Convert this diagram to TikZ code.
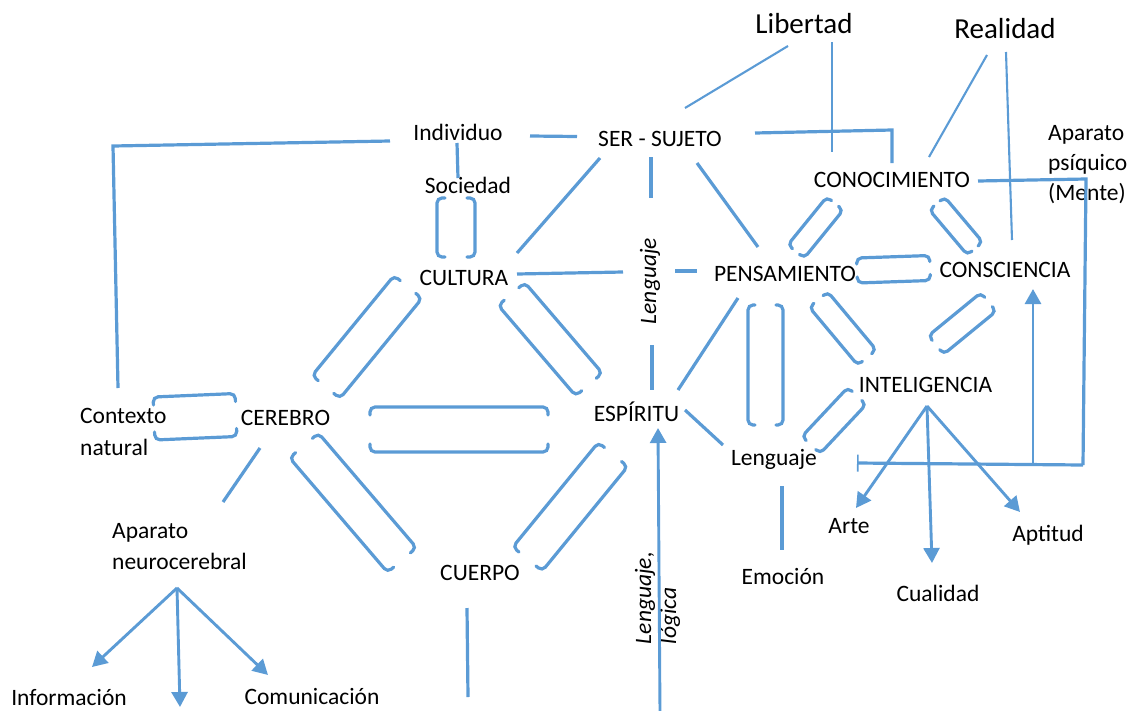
\documentclass[tikz,border=0pt]{standalone}
\usepackage{fontspec}
\setmainfont{Carlito}
\usetikzlibrary{calc,arrows.meta}
\definecolor{wblue}{HTML}{5B9BD5}

% Double bracket between two points: #1,#2 ends of the mid line,
% #3 half gap, #4 hook length
\newcommand\dbr[4]{%
  \pgfmathsetmacro\tipd{#3-#4}%
  \draw[bkt] ($(#1)!\tipd pt!90:(#2)$) -- ($(#1)!#3pt!90:(#2)$)
    -- ($(#2)!#3pt!-90:(#1)$) -- ($(#2)!\tipd pt!-90:(#1)$);
  \draw[bkt] ($(#1)!\tipd pt!-90:(#2)$) -- ($(#1)!#3pt!-90:(#2)$)
    -- ($(#2)!#3pt!90:(#1)$) -- ($(#2)!\tipd pt!90:(#1)$);
}

\begin{document}
\begin{tikzpicture}[x=1pt,y=-1pt,
  lbl/.style={font=\fontsize{23.5}{31}\selectfont, inner sep=0pt, anchor=base},
  big/.style={font=\fontsize{29}{34}\selectfont, inner sep=0pt, anchor=base},
  multi/.style={font=\fontsize{23.5}{31}\selectfont, inner sep=0pt, align=left, anchor=base west},
  rot/.style={font=\fontsize{23.5}{25}\selectfont\itshape, inner sep=0pt, rotate=90},
  ln/.style={wblue, line width=3.2pt},
  thin/.style={wblue, line width=2.1pt},
  bkt/.style={wblue, line width=3.2pt, rounded corners=5pt, line cap=round},
  arr/.style={wblue, line width=2.9pt, -{Triangle[length=15pt,width=16pt]}},
]
\useasboundingbox (0,0) rectangle (1133,710);

% concepts (multi-line nodes are placed by the baseline of their last line)
\node[big] (lib) at (804,33) {Libertad};
\node[big] (real) at (1005,38) {Realidad};
\node[lbl] (ind) at (458,140) {Individuo};
\node[lbl] (ser) at (660,146) {SER - SUJETO};
\node[multi, font=\fontsize{23.5}{30}\selectfont] (apsi) at (1048,200) {Aparato\\psíquico\\(Mente)};
\node[lbl] (soc) at (468,193) {Sociedad};
\node[lbl] (con) at (892,187) {CONOCIMIENTO};
\node[lbl] (cul) at (464,285) {CULTURA};
\node[lbl] (pen) at (785,281) {PENSAMIENTO};
\node[lbl] (cons) at (1005,277) {CONSCIENCIA};
\node[rot] (lenr) at (650,281) {Lenguaje};
\node[lbl] (int) at (925.5,392) {INTELIGENCIA};
\node[multi, font=\fontsize{23.5}{32}\selectfont] (ctx) at (80,455) {Contexto\\natural};
\node[lbl] (cer) at (285.5,425) {CEREBRO};
\node[lbl] (esp) at (636.5,421.5) {ESPÍRITU};
\node[lbl] (len) at (774,465) {Lenguaje};
\node[multi] (neu) at (112,569) {Aparato\\neurocerebral};
\node[lbl] (cue) at (480,580) {CUERPO};
\node[lbl] (arte) at (849,533) {Arte};
\node[lbl] (emo) at (783,584) {Emoción};
\node[lbl] (cua) at (938,601) {Cualidad};
\node[lbl] (apt) at (1048,541) {Aptitud};
\node[lbl] (inf) at (69,705) {Información};
\node[lbl] (com) at (312,704) {Comunicación};
\node[rot, align=left] (ll) at (657.5,598) {Lenguaje,\\lógica};

% plain links
\draw[ln] (390,141) -- (113,146) -- (118,388);
\draw[ln] (530,136) -- (577,136.5);
\draw[ln] (457,143) -- (458,178);
\draw[ln] (600,158) -- (517,253);
\draw[ln] (651,157) -- (651,198);
\draw[ln] (652,345) -- (652,390);
\draw[ln] (697,163) -- (758,247);
\draw[ln] (755,133) -- (892,130) -- (892,163);
\draw[thin] (788,46) -- (685,108);
\draw[thin] (832,42) -- (832,152);
\draw[thin] (987,55) -- (929,157);
\draw[thin] (1006,52) -- (1012,240);
\draw[ln] (978,181) -- (1086,179) -- (1083,465);
\draw[ln, {Bar[width=17pt,line width=1.6pt]}-] (857,463) -- (1083,465);
\draw[arr] (1033,464) -- (1033,289);
\draw[ln] (517,274) -- (623,272);
\draw[ln] (675,271) -- (697,271);
\draw[ln] (678,390) -- (738,298);
\draw[ln] (685,410) -- (723,445);
\draw[ln] (782,486) -- (782,550);
\draw[arr] (660,712) -- (658,428);
\draw[ln] (467,608) -- (468,697);
\draw[ln] (260,448) -- (223,502);

% branching arrows
\coordinate (n0) at (177,588);
\draw[arr] (n0) -- (92,667);
\draw[arr] (n0) -- (180,707);
\draw[arr] (n0) -- (268,675);
\coordinate (i0) at (927,406);
\draw[arr] (i0) -- (856,508);
\draw[arr] (i0) -- (932,563);
\draw[arr] (i0) -- (1020,512);

% double brackets
\dbr{456,198}{456,257}{19}{8}
\dbr{154,418.5}{236,415}{21.5}{8}
\dbr{408,287}{326,387}{18}{8}
\dbr{511.5,294}{589,384.5}{17.5}{8}
\dbr{370,429.5}{548,429.5}{22.5}{8}
\dbr{304,445.5}{402,560}{19}{8}
\dbr{613,454.5}{527.5,559}{19}{8}
\dbr{835,203.5}{796,251.5}{10.5}{6}
\dbr{937,203.5}{975,248.5}{10}{6}
\dbr{857,270.5}{930,268}{12.5}{6}
\dbr{765.5,305}{765.5,425}{17.5}{7}
\dbr{818.5,299.5}{867,357.5}{12}{6}
\dbr{988.5,302}{936,345}{12}{6}
\dbr{857,396}{811,445}{12.5}{6}
\end{tikzpicture}
\end{document}
